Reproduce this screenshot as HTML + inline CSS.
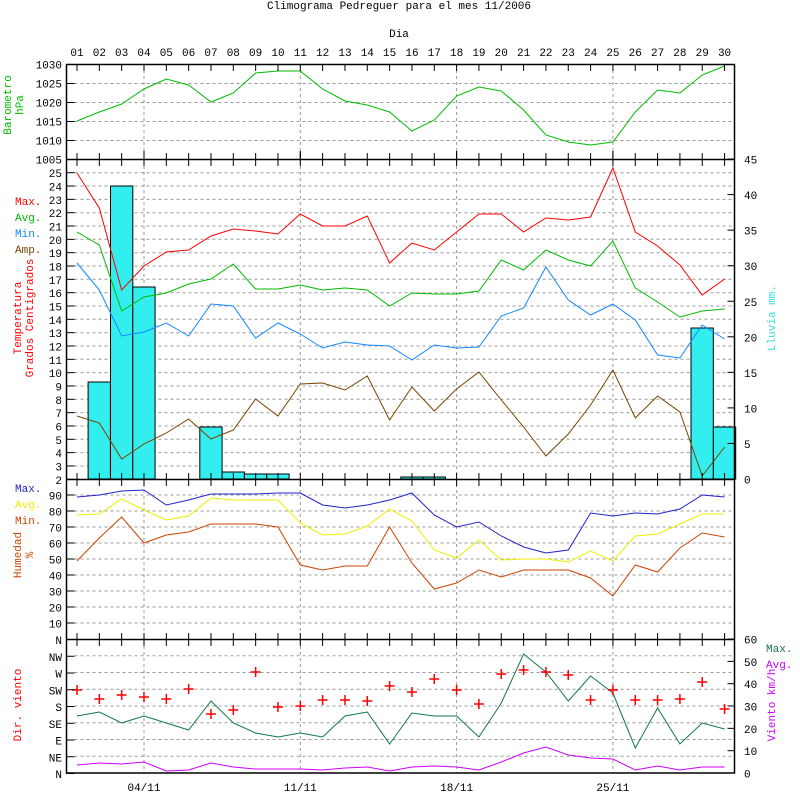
<!DOCTYPE html>
<html><head><meta charset="utf-8"><style>
html,body{margin:0;padding:0;background:#fff;width:800px;height:800px;overflow:hidden}
svg text{font-family:"Liberation Mono","DejaVu Sans Mono",monospace;font-size:11px}
</style></head><body>
<svg id="s" width="800" height="800" xmlns="http://www.w3.org/2000/svg"></svg>
<script>
var s=document.getElementById('s'),h='';
function X(d){return 77+(d-1)*22.33;}
function L(x1,y1,x2,y2,c,extra){h+='<line x1="'+x1+'" y1="'+y1+'" x2="'+x2+'" y2="'+y2+'" stroke="'+(c||'#000')+'" '+(extra||'')+'/>';}
function T(x,y,t,c,a,extra){h+='<text x="'+x+'" y="'+y+'" fill="'+(c||'#000')+'" text-anchor="'+(a||'start')+'" '+(extra||'')+'>'+t+'</text>';}
function P(arr,c){var p=arr.map(function(v,i){return X(i+1).toFixed(1)+','+v;}).join(' ');h+='<polyline points="'+p+'" fill="none" stroke="'+c+'" stroke-width="1"/>';}
var G='#999',D='stroke-dasharray="3,3"';
var L0=66.5,R0=734.5;
function hgrid(y){L(L0+8,y,R0,y,G,D);}
for(var i=0;i<5;i++){var y=64+i*19;hgrid(y+0.5);}
for(var t=3;t<=25;t++){hgrid((172.7+(25-t)*13.33).toFixed(1));}
for(var v=10;v<=90;v+=10){hgrid((639+-v*1.6).toFixed(1));}
for(var k=1;k<8;k++){hgrid((639+k*16.75).toFixed(1));}
[4,11,18,25].forEach(function(d){L(X(d),64,X(d),773,G,D);});
var rain={2:382,3:186,4:287,7:427,8:472,9:474,10:474,16:477,17:477,29:328,30:427};
for(var d in rain){var x=X(+d)-11.2;h+='<rect x="'+x.toFixed(1)+'" y="'+rain[d]+'" width="22.3" height="'+(479-rain[d])+'" fill="#33eeee" stroke="#000" stroke-width="1"/>';}
P([121,112,104,89,79,85,102,93,73,71,71,89,101,105,112,131,120,96,87,91,110,135,142,145,142,112,90,93,75,66],'#00bb00');
P([173,208,290,266,252,250,236,229,231,234,214,226,226,216,263,243,250,232,214,214,232,218,220,217,168,232,246,265,295,279],'#ff0000');
P([232,245,311,297,293,284,279,264,289,289,285,290,288,290,306,293,294,294,291,260,270,250,260,266,241,288,302,317,311,309],'#00bb00');
P([263,290,336,332,323,336,304,306,338,323,334,348,342,345,346,360,345,348,347,316,308,267,300,315,304,320,355,358,325,339],'#1188ff');
P([416,423,459,444,433,419,439,430,399,416,384,383,390,376,420,387,411,389,372,400,427,456,434,405,370,418,396,412,476,447],'#774400');
P([497,495,491,490,505,500,494,494,494,493,493,505,508,505,500,493,515,527,522,536,547,553,550,513,516,513,514,509,495,497],'#2222cc');
P([515,514,499,510,520,516,498,500,500,500,523,535,534,526,509,521,550,558,540,560,559,559,562,551,561,536,534,524,514,514],'#eeee00');
P([561,538,517,543,535,532,524,524,524,527,565,570,566,566,527,563,589,583,570,577,570,570,570,578,596,565,572,548,533,537],'#cc4400');
P([716,712,723,716,723,730,701,723,733,737,733,737,716,712,744,713,716,716,737,703,654,672,701,676,693,748,708,744,723,729],'#117744');
P([765,763,764,762,771,770,763,767,769,769,769,770,768,767,771,767,766,767,770,762,753,747,755,758,759,770,766,770,767,767],'#cc00ff');
[690,699,695,697,699,689,714,710,672,707,706,700,700,701,686,692,679,690,704,674,670,672,675,700,690,700,700,699,682,709].forEach(function(y,i){var x=X(i+1);L(x-5,y,x+5,y,'#ff0000','stroke-width="1.5"');L(x,y-5,x,y+5,'#ff0000','stroke-width="1.5"');});
h+='<rect x="'+L0+'" y="64.5" width="'+(R0-L0)+'" height="708.5" fill="none" stroke="#000" stroke-width="1.5"/>';
[159.5,479.5,639.5].forEach(function(y){L(L0,y,R0,y,'#000','stroke-width="1.5"');});
for(var d=1;d<=30;d++){var x=X(d),lg=[4,11,18,25].indexOf(d)>=0;
 L(x,64,x,71);L(x,153-(lg?2:0),x,166);if(lg){L(x,151,x,159);}
 L(x,473,x,486);L(x,633,x,646);
 T(x,56,(d<10?'0':'')+d,'#000','middle');}
function lt(y){L(L0,y,L0+8,y);}
['1030','1025','1020','1015','1010','1005'].forEach(function(t,i){var y=64.5+i*19;lt(y);T(62,y+4,t,'#000','end');});
for(var t=2;t<=25;t++){var y=172.7+(25-t)*13.33;lt(y);T(62,y+4.5,t,'#000','end');}
for(var v=10;v<=90;v+=10){var y=639-v*1.6;lt(y);T(62,y+4.5,v,'#000','end');}
['N','NW','W','SW','S','SE','E','NE','N'].forEach(function(t,i){var y=639.5+i*16.75;lt(y);T(62,y+4.5,t,'#000','end');});
for(var m=0;m<=45;m+=5){var y=479-m*7.11;L(R0-7,y,R0,y);T(744,y+4.5,m);}
for(var w=0;w<=60;w+=10){var y=773-w*2.233;L(R0-7,y,R0,y);T(744,y+4.5,w);}
T(399,9,'Climograma Pedreguer para el mes 11/2006','#000','middle');
T(399,37,'Dia','#000','middle');
['04/11','11/11','18/11','25/11'].forEach(function(t,i){T(X(4+7*i),791,t,'#000','middle');});
T(15,205,'Max.','#ff0000');T(15,221,'Avg.','#00bb00');T(15,237,'Min.','#1188ff');T(15,253,'Amp.','#774400');
T(15,492,'Max.','#2222cc');T(15,508,'Avg.','#eeee00');T(15,524,'Min.','#cc4400');
T(766,652,'Max.','#117744');T(766,668,'Avg.','#cc00ff');
function R(x,y,t,c){T(x,y,t,c,'middle','transform="rotate(-90 '+x+' '+y+')"');}
R(11,105,'Barometro','#00bb00');R(23,105,'hPa','#00bb00');
R(21,318,'Temperatura','#ff0000');R(33,318,'Grados Centigrados','#ff0000');
R(21,555,'Humedad','#cc4400');R(33,555,'%','#cc4400');
R(21,705,'Dir. viento','#ff0000');
R(775,318,'Lluvia mm.','#33dddd');R(775,705,'Viento km/h','#cc00ff');
s.innerHTML=h;
</script>
</body></html>
